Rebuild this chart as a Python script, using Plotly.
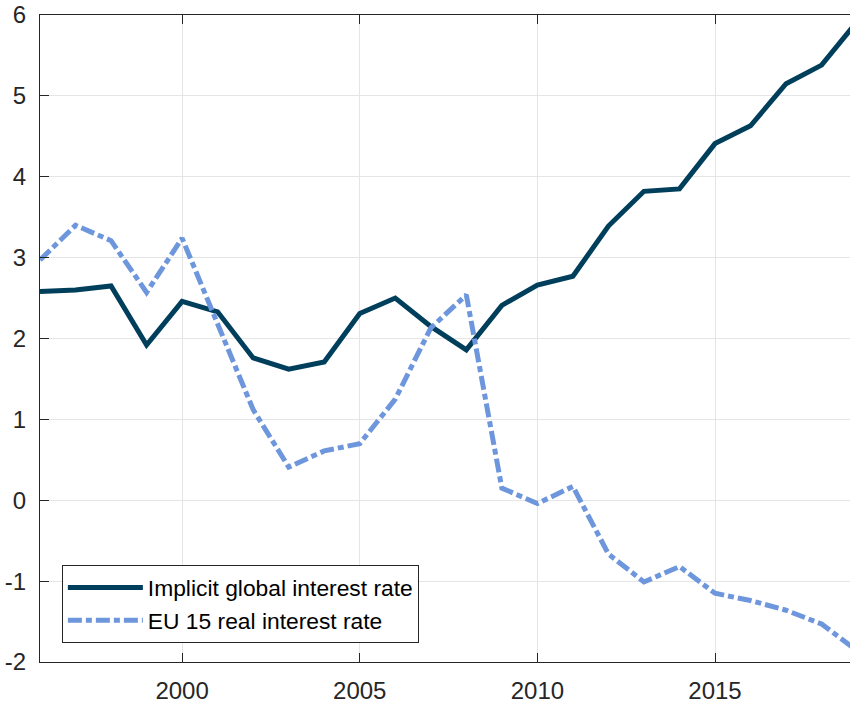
import plotly.graph_objects as go

# values
years = list(range(1996, 2020))
implicit_rate = [2.58, 2.60, 2.65, 1.92, 2.46, 2.33, 1.76, 1.62, 1.71, 2.31, 2.50, 2.15,
                 1.86, 2.41, 2.66, 2.77, 3.39, 3.82, 3.85, 4.41, 4.63, 5.15, 5.38, 5.92]
eu15_rate = [2.97, 3.40, 3.21, 2.57, 3.24, 2.18, 1.12, 0.41, 0.61, 0.70, 1.25, 2.13,
             2.54, 0.15, -0.04, 0.17, -0.665, -1.01, -0.82, -1.15, -1.24, -1.36, -1.53, -1.86]
x_ticks = [2000, 2005, 2010, 2015]
y_ticks = [-2, -1, 0, 1, 2, 3, 4, 5, 6]
y_labels = ["-2", "-1", "0", "1", "2", "3", "4", "5", "6"]

axis_col = "#262626"
font_name = "Liberation Sans, Arial, Helvetica, sans-serif"

fig = go.Figure()
fig.add_trace(go.Scatter(x=years, y=implicit_rate, mode="lines",
                         name="Implicit global interest rate",
                         line=dict(color="#003f5c", width=5)))
fig.add_trace(go.Scatter(x=years, y=eu15_rate, mode="lines",
                         name="EU 15 real interest rate",
                         line=dict(color="#6e96dc", width=5, dash="14px,4px,6px,4px")))

fig.update_layout(
    width=850, height=703,
    margin=dict(l=40, r=0, t=15, b=41),
    plot_bgcolor="white", paper_bgcolor="white",
    font=dict(family=font_name, color=axis_col),
    showlegend=True,
    legend=dict(x=0.027, y=0.029, xanchor="left", yanchor="bottom",
                bgcolor="white", bordercolor=axis_col, borderwidth=1,
                font=dict(size=22.8, color="#000000"), itemwidth=75,
                tracegroupgap=0),
)
fig.update_xaxes(range=[1996, 2018.8], tickvals=x_ticks, ticks="inside", ticklen=9,
                 tickcolor=axis_col, showline=True, linecolor=axis_col, linewidth=1,
                 mirror="ticks", showgrid=True, gridcolor="#e5e5e5", gridwidth=1,
                 zeroline=False, tickfont=dict(size=24, color=axis_col),
                 ticklabelstandoff=7, automargin=False, ticklabeloverflow="allow")
fig.update_yaxes(range=[-2, 6], tickvals=y_ticks, ticktext=y_labels, ticks="inside",
                 ticklen=9, tickcolor=axis_col, showline=True, linecolor=axis_col,
                 linewidth=1, mirror=False, showgrid=True, gridcolor="#e5e5e5",
                 gridwidth=1, zeroline=False, tickfont=dict(size=24, color=axis_col),
                 ticklabelstandoff=8, automargin=False, ticklabeloverflow="allow")

# drop the page's default body margin so the figure fills the window
fig.write_html("out.html", config={"displayModeBar": False},
               post_script="document.body.style.margin='0';"
                           "document.body.style.overflow='hidden';")
